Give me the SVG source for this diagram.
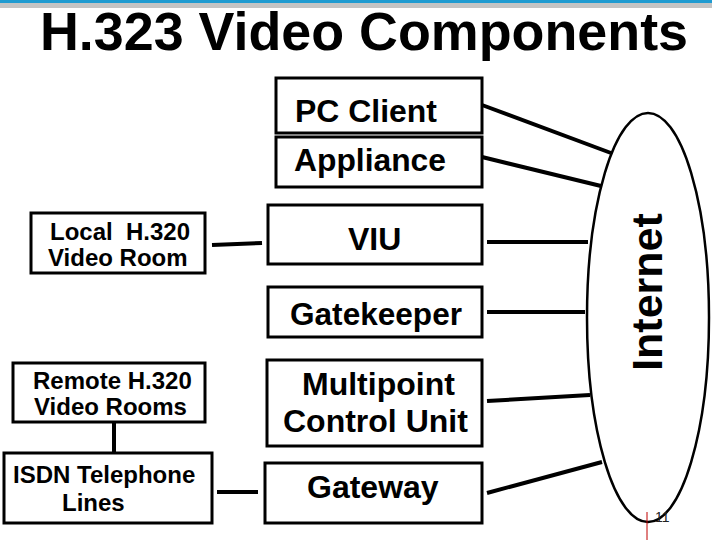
<svg xmlns="http://www.w3.org/2000/svg" width="720" height="540" viewBox="0 0 720 540">
<style>
.box{fill:#fff;stroke:#000;stroke-width:3}
.t{font-family:"Liberation Sans",Arial,sans-serif;font-weight:bold;fill:#000}
.big{font-size:32px}
.sm{font-size:24px;white-space:pre}
.con{stroke:#000;stroke-width:4;fill:none}
</style>
<rect width="720" height="540" fill="#fff"/>
<g id="header">
<rect x="0" y="0" width="712" height="3" fill="#1f9bd1"/>
<rect x="0" y="3" width="712" height="5" fill="#c4c4c4"/>
<text class="t" x="40" y="50" font-size="53" textLength="648" lengthAdjust="spacingAndGlyphs">H.323 Video Components</text>
</g>
<g id="internet">
<ellipse cx="648" cy="317.5" rx="61" ry="204.5" fill="none" stroke="#000" stroke-width="2.5"/>
<text class="t" font-size="43" transform="translate(662,292) rotate(-90)" text-anchor="middle">Internet</text>
</g>
<g id="connectors">
<line class="con" x1="482" y1="105" x2="611" y2="153" stroke-width="3.5"/>
<line class="con" x1="482" y1="157" x2="601" y2="186" stroke-width="3.5"/>
<line class="con" x1="212" y1="245" x2="262" y2="243"/>
<line class="con" x1="487" y1="242" x2="588" y2="242"/>
<line class="con" x1="487" y1="312" x2="585" y2="312"/>
<line class="con" x1="487" y1="401" x2="590" y2="395"/>
<line class="con" x1="487" y1="493" x2="602" y2="462"/>
<line class="con" x1="114" y1="422" x2="114" y2="453"/>
<line class="con" x1="217" y1="492" x2="258" y2="492"/>
</g>
<g id="pc-client">
<rect class="box" x="276" y="78" width="206" height="55"/>
<text class="t big" x="295" y="122" textLength="142" lengthAdjust="spacingAndGlyphs">PC Client</text>
</g>
<g id="appliance">
<rect class="box" x="276" y="137" width="206" height="50"/>
<text class="t big" x="294" y="171" textLength="152" lengthAdjust="spacingAndGlyphs">Appliance</text>
</g>
<g id="local-room">
<rect class="box" x="31" y="213" width="174" height="60"/>
<text class="t sm" x="50" y="240">Local  H.320</text>
<text class="t sm" x="48" y="266">Video Room</text>
</g>
<g id="viu">
<rect class="box" x="268" y="205" width="214" height="59"/>
<text class="t big" x="348" y="250">VIU</text>
</g>
<g id="gatekeeper">
<rect class="box" x="268" y="287" width="214" height="50"/>
<text class="t big" x="290" y="325" textLength="172" lengthAdjust="spacingAndGlyphs">Gatekeeper</text>
</g>
<g id="remote-rooms">
<rect class="box" x="13" y="363" width="192" height="59"/>
<text class="t sm" x="33" y="389">Remote H.320</text>
<text class="t sm" x="34" y="415">Video Rooms</text>
</g>
<g id="mcu">
<rect class="box" x="267" y="360" width="215" height="86"/>
<text class="t big" x="302" y="395">Multipoint</text>
<text class="t big" x="283" y="432">Control Unit</text>
</g>
<g id="isdn">
<rect class="box" x="4" y="453" width="208" height="70"/>
<text class="t sm" x="13" y="483">ISDN Telephone</text>
<text class="t sm" x="62" y="511">Lines</text>
</g>
<g id="gateway">
<rect class="box" x="265" y="463" width="217" height="60"/>
<text class="t big" x="307" y="498">Gateway</text>
</g>
<g id="footer">
<line x1="647" y1="512" x2="647" y2="540" stroke="#c00000" stroke-width="1"/>
<text x="655" y="522" font-family="Liberation Sans,Arial,sans-serif" font-size="14" fill="#222">11</text>
</g>
</svg>
